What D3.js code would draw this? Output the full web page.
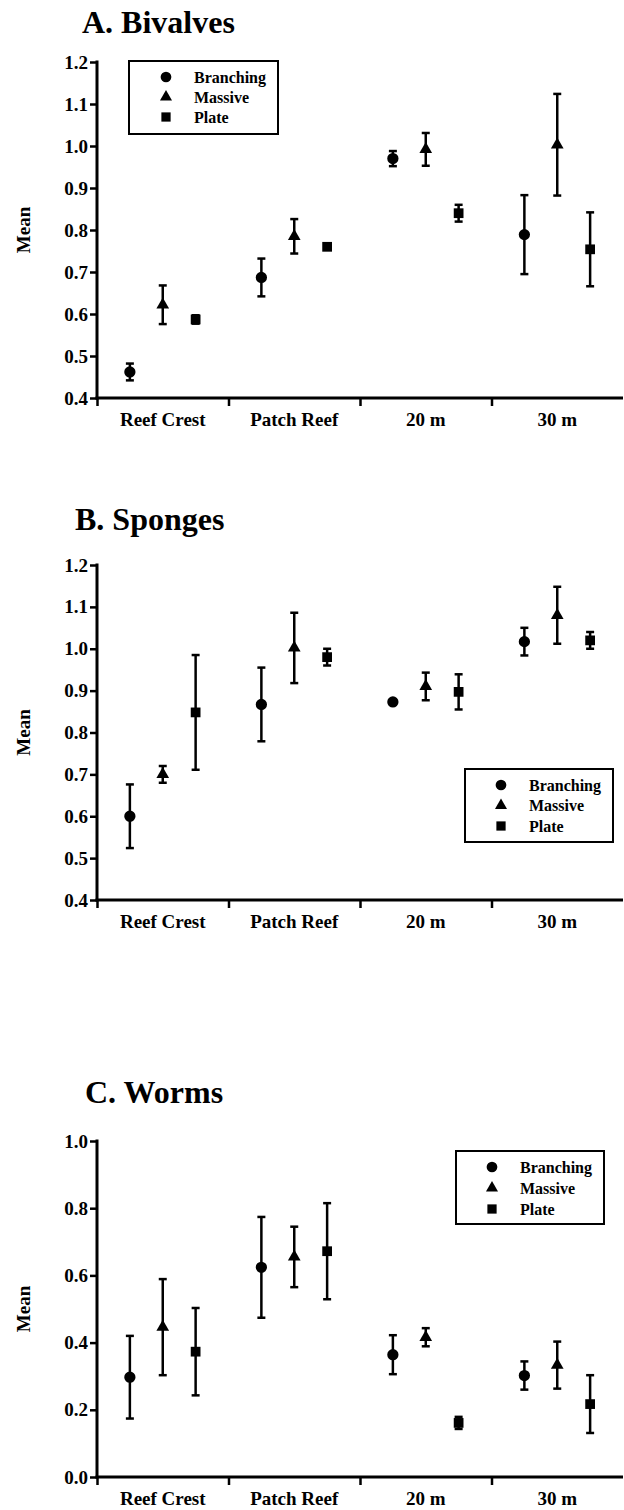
<!DOCTYPE html>
<html>
<head>
<meta charset="utf-8">
<script src="https://cdn.jsdelivr.net/npm/d3@7"></script>
<style>
  html, body { margin: 0; padding: 0; background: #fff; }
  svg { display: block; }
  svg text { font-family: "Liberation Serif", "Times New Roman", serif !important; font-weight: bold; fill: #000; }
</style>
</head>
<body>
<svg id="chart" width="624" height="1510"></svg>
<script>
// Sites along the reef gradient and coral growth forms
const sites = ["Reef Crest", "Patch Reef", "20 m", "30 m"];
const forms = ["Branching", "Massive", "Plate"];

// Bivalves: means and standard errors, one row per growth form, columns follow `sites`
const bivalvesMean = [
  [0.462, 0.687, 0.970, 0.789],
  [0.622, 0.785, 0.992, 1.003],
  [0.587, 0.760, 0.840, 0.754]
];
const bivalvesSE = [
  [0.020, 0.045, 0.018, 0.094],
  [0.046, 0.041, 0.039, 0.121],
  [0.010, 0.004, 0.020, 0.088]
];
const bivalvesTicks = [0.4, 0.5, 0.6, 0.7, 0.8, 0.9, 1.0, 1.1, 1.2];

// Sponges
const spongesMean = [
  [0.600, 0.867, 0.873, 1.017],
  [0.700, 1.002, 0.910, 1.080],
  [0.848, 0.980, 0.897, 1.020]
];
const spongesSE = [
  [0.076, 0.088, 0.005, 0.033],
  [0.020, 0.084, 0.033, 0.068],
  [0.137, 0.020, 0.042, 0.020]
];
const spongesTicks = [0.4, 0.5, 0.6, 0.7, 0.8, 0.9, 1.0, 1.1, 1.2];

// Worms
const wormsMean = [
  [0.297, 0.624, 0.364, 0.302],
  [0.446, 0.655, 0.416, 0.333],
  [0.373, 0.672, 0.161, 0.217]
];
const wormsSE = [
  [0.123, 0.150, 0.058, 0.042],
  [0.143, 0.090, 0.027, 0.070],
  [0.130, 0.143, 0.018, 0.086]
];
const wormsTicks = [0.0, 0.2, 0.4, 0.6, 0.8, 1.0];

const FONT = '"Liberation Serif", "Times New Roman", serif';
const svg = d3.select("#chart");
const symbolTypes = [d3.symbolCircle, d3.symbolTriangle, d3.symbolSquare];
const symbolSizes = [100, 70, 95];

function drawPanel(p) {
  const g = svg.append("g");
  const left = 97, right = 623;

  const x = d3.scaleBand().domain(sites).range([left, right]);
  const xi = d3.scalePoint().domain(forms).range([x.bandwidth() * 0.25, x.bandwidth() * 0.75]);
  const y = d3.scaleLinear().domain([p.ticks[0], p.ticks[p.ticks.length - 1]]).range([p.bottom, p.top]);

  // title
  g.append("text").attr("x", p.titleX).attr("y", p.titleY)
    .style("font-size", "32px").text(p.title);

  // y axis
  const ya = g.append("g").attr("transform", `translate(${left},0)`)
    .call(d3.axisLeft(y).tickValues(p.ticks).tickFormat(d3.format(".1f")).tickSize(7).tickSizeOuter(0).tickPadding(2));
  ya.attr("font-family", null).attr("font-size", null);
  ya.select(".domain").attr("stroke-width", 3).attr("d", `M0,${p.top - 1.5}V${p.bottom + 1.5}`);
  ya.selectAll(".tick line").attr("stroke-width", 2.5);
  ya.selectAll(".tick text").style("font-family", FONT).style("font-weight", "bold").style("font-size", "19px");

  // x axis: boundary ticks between sites, labels centred in each band
  const xb = d3.scaleLinear().domain([0, sites.length]).range([left, right]);
  const xa = g.append("g").attr("transform", `translate(0,${p.bottom})`)
    .call(d3.axisBottom(xb).tickValues(d3.range(sites.length)).tickFormat("").tickSize(8).tickSizeOuter(0));
  xa.select(".domain").attr("stroke-width", 3).attr("d", `M${left - 1.5},0H${right}`);
  xa.selectAll(".tick line").attr("stroke-width", 2.5);

  g.selectAll(".site").data(sites).join("text")
    .attr("x", d => x(d) + x.bandwidth() / 2)
    .attr("y", p.bottom + 28)
    .attr("text-anchor", "middle").style("font-size", "19px")
    .text(d => d);

  // y label
  const midY = (p.top + p.bottom) / 2;
  g.append("text").attr("transform", `translate(30,${midY}) rotate(-90)`)
    .attr("text-anchor", "middle").style("font-size", "19px").text("Mean");

  // points with error bars
  const pts = [];
  forms.forEach((f, i) => sites.forEach((s, j) => {
    pts.push({ f: i, cx: x(s) + xi(f), m: p.mean[i][j], se: p.se[i][j] });
  }));
  const cap = 4;
  const eb = g.append("g").attr("stroke", "#000").attr("stroke-width", 2.5);
  pts.forEach(d => {
    const y0 = y(d.m - d.se), y1 = y(d.m + d.se);
    eb.append("line").attr("x1", d.cx).attr("x2", d.cx).attr("y1", y0).attr("y2", y1);
    eb.append("line").attr("x1", d.cx - cap).attr("x2", d.cx + cap).attr("y1", y0).attr("y2", y0);
    eb.append("line").attr("x1", d.cx - cap).attr("x2", d.cx + cap).attr("y1", y1).attr("y2", y1);
  });
  g.selectAll(".pt").data(pts).join("path")
    .attr("transform", d => `translate(${d.cx},${y(d.m)})`)
    .attr("d", d => d3.symbol().type(symbolTypes[d.f]).size(symbolSizes[d.f])())
    .attr("fill", "#000");

  // legend
  const L = p.legend;
  g.append("rect").attr("x", L.x).attr("y", L.y).attr("width", L.w).attr("height", L.h)
    .attr("fill", "#fff").attr("stroke", "#000").attr("stroke-width", 2);
  forms.forEach((f, i) => {
    const ry = L.y + L.first + i * L.step;
    g.append("path").attr("transform", `translate(${L.x + L.sx},${ry})`)
      .attr("d", d3.symbol().type(symbolTypes[i]).size(symbolSizes[i] * 0.9)()).attr("fill", "#000");
    g.append("text").attr("x", L.x + L.tx).attr("y", ry).attr("dy", "0.35em")
      .style("font-size", "16px").text(f);
  });
}

drawPanel({
  title: "A. Bivalves", titleX: 82, titleY: 33,
  top: 62, bottom: 398, ticks: bivalvesTicks,
  mean: bivalvesMean, se: bivalvesSE,
  legend: { x: 129, y: 61, w: 149, h: 73, sx: 37, tx: 65, first: 16, step: 20 }
});
drawPanel({
  title: "B. Sponges", titleX: 75, titleY: 530,
  top: 565, bottom: 900, ticks: spongesTicks,
  mean: spongesMean, se: spongesSE,
  legend: { x: 465, y: 769, w: 148, h: 73, sx: 36, tx: 64, first: 16, step: 20.5 }
});
drawPanel({
  title: "C. Worms", titleX: 85, titleY: 1103,
  top: 1141, bottom: 1477, ticks: wormsTicks,
  mean: wormsMean, se: wormsSE,
  legend: { x: 456, y: 1151, w: 148, h: 73, sx: 36, tx: 64, first: 16, step: 21 }
});
</script>
</body>
</html>
